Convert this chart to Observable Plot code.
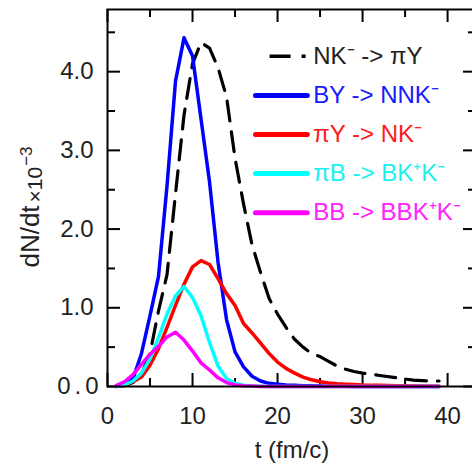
<!DOCTYPE html>
<html><head><meta charset="utf-8">
<script src="https://cdn.jsdelivr.net/npm/d3@7"></script>
<script src="https://cdn.jsdelivr.net/npm/@observablehq/plot@0.6"></script>
<style>
body{margin:0;overflow:hidden;background:#fff}
svg{display:block;max-width:none !important}
</style>
</head><body><div id="chart"></div>
<script>
// time axis (fm/c)
const t = [1,2,3,4,5,6,7,8,9,10,11,12,13,14,15,16,17,18,19,20,21,22,23,24,25,26,27,28,29,30,32,34,36,38,39];
// dN/dt x10^-3
const nkToPiY   = [0,0.01,0.05,0.16,0.42,0.96,1.42,2.45,3.45,4.10,4.37,4.30,4.05,3.68,2.90,2.32,1.80,1.45,1.12,0.92,0.75,0.60,0.50,0.42,0.38,0.32,0.26,0.22,0.19,0.17,0.14,0.11,0.08,0.07,0.07];
const byToNNK   = [0,0.02,0.10,0.42,0.90,1.40,2.55,3.88,4.43,4.20,3.40,2.60,1.58,0.85,0.44,0.25,0.13,0.07,0.04,0.03,0.02,0.015,0.01,0.008,0.005,0.004,0.003,0.002,0.001,0,0,0,0,0,0];
const piYToNK   = [0,0.02,0.06,0.12,0.27,0.48,0.75,1.03,1.30,1.52,1.60,1.55,1.37,1.18,1.03,0.80,0.68,0.55,0.42,0.31,0.23,0.17,0.12,0.085,0.06,0.045,0.035,0.03,0.025,0.02,0.015,0.01,0.006,0.003,0.002];
const piBToBKK  = [0,0.02,0.07,0.17,0.35,0.62,0.92,1.15,1.27,1.13,0.90,0.56,0.26,0.10,0.04,0.015,0.005,0.002,0,0,0,0,0,0,0,0,0,0,0,0,0,0,0,0,0];
const bbToBBKK  = [0.01,0.06,0.15,0.28,0.41,0.51,0.63,0.69,0.59,0.45,0.30,0.21,0.11,0.05,0.02,0.01,0.005,0,0,0,0,0,0,0,0,0,0,0,0,0,0,0,0,0,0];

const names  = ["NK⁻ -> πY", "BY -> NNK⁻", "πY -> NK⁻", "πB -> BK⁺K⁻", "BB -> BBK⁺K⁻"];
const colors = ["#000000", "#0000ff", "#ff0000", "#00ffff", "#ff00ff"];
const textColors = ["#222222", "#1a1aff", "#ff1a1a", "#19f0f0", "#ff22ff"];
const valuesList = [nkToPiY, byToNNK, piYToNK, piBToBKK, bbToBBKK];

const xMajor = [0,10,20,30,40];
const xMinor = [5,15,25,35];
const yMajor = [0,1,2,3,4];
const yMinor = [0.5,1.5,2.5,3.5,4.5];

const W = 478, H = 470, mL = 107, mR = 2, mT = 9, mB = 84;
const fw = W - mL - mR, fh = H - mT - mB;

const lineMarks = valuesList.map((vals, k) =>
  Plot.line(t.map((x, i) => ({t: x, v: vals[i]})), {
    x: "t", y: "v", stroke: colors[k], strokeWidth: k === 0 ? 3.2 : 3.5,
    strokeDasharray: k === 0 ? "20,11" : null, strokeLinejoin: "round"
  })
);

// legend (layout in data units of the frame)
const legX0 = 17.4, legX1 = 23.5, legTX = 24.2, legY0 = 4.195, legDY = 0.4965;
const legend = names.map((n, k) => ({name: n, k, y: legY0 - k * legDY}));
const legendMarks = [
  Plot.link(legend.filter(d => d.k > 0), {x1: () => legX0, x2: () => legX1, y1: "y", y2: "y",
    stroke: d => colors[d.k], strokeWidth: 5, strokeLinecap: "round"}),
  Plot.link(legend.filter(d => d.k === 0), {x1: () => 19.06, x2: () => legX1 - 0.2, y1: "y", y2: "y",
    stroke: "#000", strokeWidth: 3.5, strokeDasharray: "21,11"}),
  Plot.text(legend, {x: () => legTX, y: "y", text: "name", fill: d => textColors[d.k],
    textAnchor: "start", fontSize: 24})
];

const chart = Plot.plot({
  width: W, height: H, marginLeft: mL, marginRight: mR, marginTop: mT, marginBottom: mB,
  style: {fontFamily: "Liberation Sans, Arial, sans-serif", fontSize: "24px", background: "#fff", maxWidth: "none"},
  x: {domain: [0, 43.4]},
  y: {domain: [0, 4.79]},
  marks: [
    // inward ticks
    Plot.tickY(yMajor, {y: d => d, insetRight: fw - 13, stroke: "#000", strokeWidth: 2}),
    Plot.tickY(yMinor, {y: d => d, insetRight: fw - 8, stroke: "#000", strokeWidth: 2}),
    Plot.tickY(yMajor, {y: d => d, insetLeft: fw - 13, stroke: "#000", strokeWidth: 2}),
    Plot.tickY(yMinor, {y: d => d, insetLeft: fw - 8, stroke: "#000", strokeWidth: 2}),
    Plot.tickX(xMajor, {x: d => d, insetTop: fh - 13, stroke: "#000", strokeWidth: 2}),
    Plot.tickX(xMinor, {x: d => d, insetTop: fh - 8, stroke: "#000", strokeWidth: 2}),
    Plot.tickX(xMajor, {x: d => d, insetBottom: fh - 13, stroke: "#000", strokeWidth: 2}),
    Plot.tickX(xMinor, {x: d => d, insetBottom: fh - 8, stroke: "#000", strokeWidth: 2}),
    // tick labels
    Plot.axisY({ticks: yMajor.slice(1), tickSize: 0, tickPadding: 14, tickFormat: d => d.toFixed(1),
      fontSize: 24, fill: "#222", label: null}),
    Plot.axisY({ticks: [0], tickSize: 0, tickPadding: 5, tickFormat: d => d.toFixed(1),
      fontSize: 24, fill: "#222", label: null}),
    Plot.axisX({ticks: xMajor, tickSize: 0, tickPadding: 20, fontSize: 24, fill: "#222", label: null}),
    Plot.text(["t (fm/c)"], {frameAnchor: "bottom", dy: 71, fontSize: 24, fill: "#222"}),
    ...lineMarks,
    ...legendMarks,
    Plot.frame({stroke: "#000", strokeWidth: 2})
  ]
});

document.getElementById("chart").appendChild(chart);

// y-axis label with sub-positioned factor
const svg = d3.select(chart);
svg.style("max-width", "none");
svg.selectAll("text").filter(function(){ return this.textContent === "0.0"; })
  .attr("letter-spacing", "4");
const yl = svg.append("text")
  .attr("transform", "translate(39,207) rotate(-90)")
  .attr("text-anchor", "middle")
  .attr("fill", "#222")
  .attr("font-family", "Liberation Sans, Arial, sans-serif");
yl.append("tspan").attr("font-size", 26).text("dN/dt");
yl.append("tspan").attr("font-size", 21).attr("dy", 3).attr("dx", 3).text("×10");
yl.append("tspan").attr("font-size", 17).attr("dy", -10).attr("dx", 1).text("−3");
</script>
</body></html>
